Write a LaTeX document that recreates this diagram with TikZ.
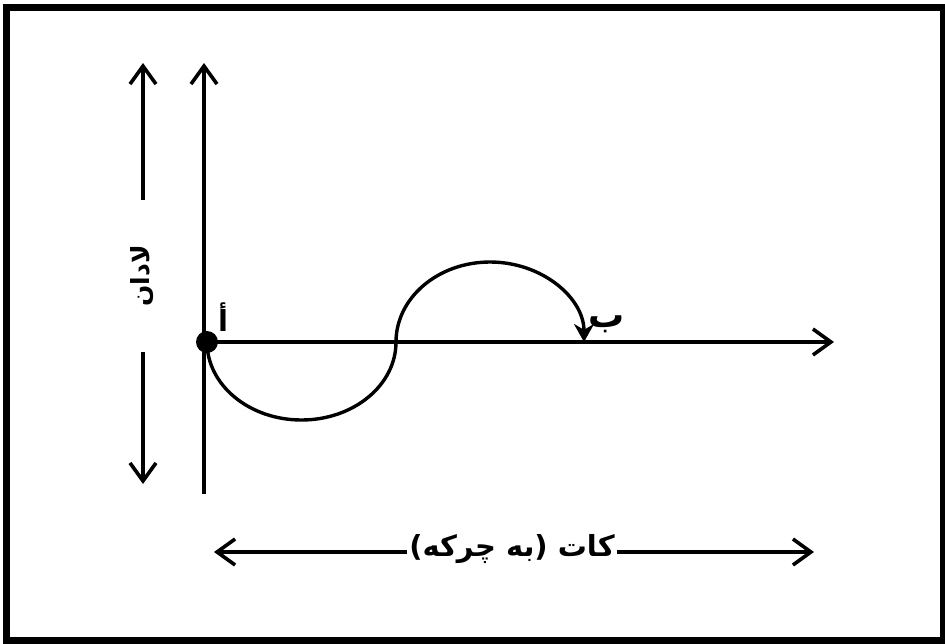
\documentclass[tikz,border=0pt]{standalone}
\usepackage{fontspec}
\TeXXeTstate=1
\newfontfamily\arabicfont[Script=Arabic]{DejaVu Sans}
\usetikzlibrary{arrows.meta}
\begin{document}
\begin{tikzpicture}[x=1pt,y=-1pt,line width=3.6pt,
  ax/.style={-{Straight Barb[length=18pt,width=26pt]}},
  wave/.style={line width=3.4pt},
  lbl/.style={inner sep=0pt,font=\arabicfont\bfseries\fontsize{29}{33}\selectfont},
  dotnode/.style={circle,fill=black,inner sep=0pt,minimum size=22pt}]
\useasboundingbox (0,0) rectangle (945,643);
\draw[line width=7pt] (6,7.5) rectangle (943,640);
% axes
\node[dotnode] (A) at (207,342) {};
\coordinate (vtop) at (204,63);
\coordinate (vbot) at (204,494);
\coordinate (hend) at (834,342);
\draw[ax] (vbot) -- (vtop);
\draw[ax] (A.center) -- (hend);
% displacement arrow
\node[lbl,rotate=90,font=\arabicfont\bfseries\fontsize{25}{29}\selectfont] (dlab) at (142,276) {\beginR لادان\endR};
\coordinate (ltop) at (143,63);
\coordinate (lbot) at (143,484);
\coordinate (lg1) at (143,200);
\coordinate (lg2) at (143,352);
\draw[ax] (lg1) -- (ltop);
\draw[ax] (lg2) -- (lbot);
% time arrow
\node[lbl] (tlab) at (512,549) {\beginR کات (به چرکه)\endR};
\coordinate (tl) at (214,552);
\coordinate (tr) at (814,552);
\draw[ax] (tlab.west |- tl) -- (tl);
\draw[ax] (tlab.east |- tr) -- (tr);
% wave
\coordinate (M) at (396,342);
\draw[wave] (A.center) arc[start angle=180,end angle=0,x radius=94.5,y radius=78] coordinate (M2);
\draw[wave,-{Stealth[length=18pt,width=20pt]}] (M) arc[start angle=180,end angle=360,x radius=94,y radius=80] coordinate (B);
% labels
\node[lbl] (alab) at (223,317) {\beginR أ\endR};
\node[lbl,font=\arabicfont\bfseries\fontsize{36}{40}\selectfont] (blab) at (607,324) {\beginR ب\endR};
\end{tikzpicture}
\end{document}
